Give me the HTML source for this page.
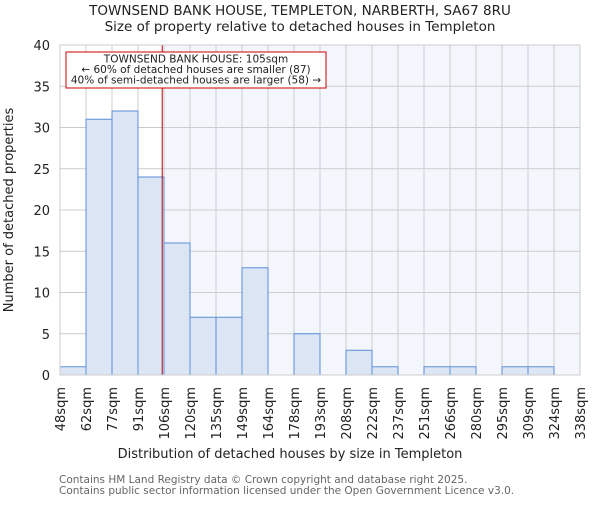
<!DOCTYPE html>
<html><head><meta charset="utf-8"><style>
body{margin:0;background:#fff}
svg text{font-family:"DejaVu Sans","Liberation Sans",sans-serif}
</style></head><body>
<svg id="c" width="600" height="500" xmlns="http://www.w3.org/2000/svg">
<text x="300" y="15" text-anchor="middle" font-size="13.5" fill="#222">TOWNSEND BANK HOUSE, TEMPLETON, NARBERTH, SA67 8RU</text>
<text x="300" y="31" text-anchor="middle" font-size="13.5" fill="#222">Size of property relative to detached houses in Templeton</text>
<g id="plot"></g>
<text x="290" y="458" text-anchor="middle" font-size="13" fill="#222">Distribution of detached houses by size in Templeton</text>
<text transform="translate(13,210) rotate(-90)" text-anchor="middle" font-size="13" fill="#222">Number of detached properties</text>
<text x="59" y="483" font-size="10.5" fill="#666">Contains HM Land Registry data © Crown copyright and database right 2025.</text>
<text x="59" y="494" font-size="10.5" fill="#666">Contains public sector information licensed under the Open Government Licence v3.0.</text>
</svg>
<script>
const binLabels=["48sqm","62sqm","77sqm","91sqm","106sqm","120sqm","135sqm","149sqm","164sqm","178sqm","193sqm","208sqm","222sqm","237sqm","251sqm","266sqm","280sqm","295sqm","309sqm","324sqm","338sqm"];
const counts=[1,31,32,24,16,7,7,13,0,5,0,3,1,0,1,1,0,1,1,0];
const yTicks=[0,5,10,15,20,25,30,35,40];
const binStart=48, binWidth=14.5, propertySize=105;
const L=60,R=580,T=45,B=375,yMax=40;
const NS="http://www.w3.org/2000/svg";
const g=document.getElementById('plot');
const bw=(R-L)/counts.length;
const x=v=>L+(v-binStart)/binWidth*bw;
const xi=i=>L+i*bw;
const y=v=>B-(v/yMax)*(B-T);
function mk(t,a){const e=document.createElementNS(NS,t);for(const k in a)e.setAttribute(k,a[k]);g.appendChild(e);return e;}
const px=x(propertySize);
let e=mk('rect',{x:px,y:T,width:R-px,height:B-T,fill:'#f3f6fd'});


for(let i=0;i<=counts.length;i++){e=mk('line',{x1:xi(i),x2:xi(i),y1:T,y2:B,stroke:'#cccccc','stroke-width':1});

}
yTicks.forEach(v=>{e=mk('line',{x1:L,x2:R,y1:y(v),y2:y(v),stroke:'#cccccc','stroke-width':1});


e=mk('text',{x:L-10,y:y(v)+5,'text-anchor':'end','font-size':13,fill:'#222'});e.textContent=v;

});
counts.forEach((c,i)=>{if(c<=0)return;e=mk('rect',{x:xi(i),y:y(c),width:bw,height:B-y(c),fill:'#dbe5f4',stroke:'#5b8fd6','stroke-width':1});

});
binLabels.forEach((s,i)=>{e=mk('text',{transform:`translate(${xi(i)+5},${B+12}) rotate(-90)`,'text-anchor':'end','font-size':13,fill:'#222'});e.textContent=s;

});
e=mk('line',{x1:px,x2:px,y1:T,y2:B,stroke:'#c00000','stroke-width':1});


e=mk('rect',{x:66,y:52,width:260,height:36,fill:'#fff',stroke:'#cc0000','stroke-width':1});


["TOWNSEND BANK HOUSE: 105sqm","← 60% of detached houses are smaller (87)","40% of semi-detached houses are larger (58) →"].forEach((s,i)=>{e=mk('text',{x:196,y:62.5+i*10.5,'text-anchor':'middle','font-size':10.5,fill:'#222'});e.textContent=s;

});
e=mk('rect',{x:L,y:T,width:R-L,height:B-T,fill:'none',stroke:'#cccccc','stroke-width':1});


</script>
</body></html>
